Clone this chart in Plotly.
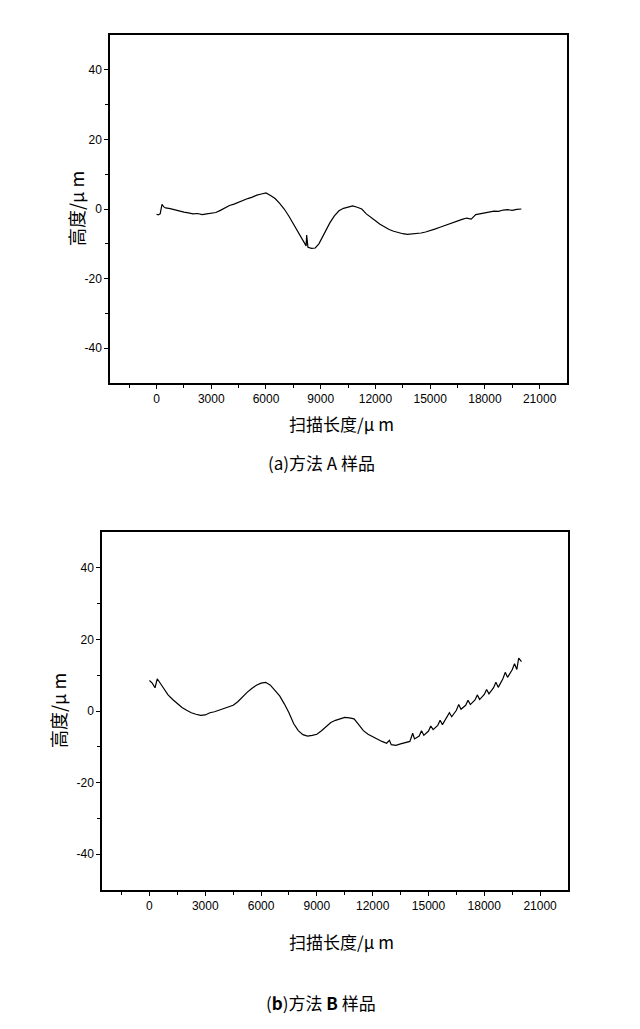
import plotly.graph_objects as go

x_a = [0,100,200,300,400,500,750,1000,1250,1500,1750,2000,2250,2500,2750,3000,3250,3500,3750,4000,4250,4500,4750,5000,5250,5500,5750,6000,6250,6500,6750,7000,7250,7500,7750,8000,8150,8200,8230,8260,8300,8500,8700,8900,9000,9250,9500,9750,10000,10250,10500,10750,11000,11250,11500,11750,12000,12250,12500,12750,13000,13250,13500,13750,14000,14250,14500,14750,15000,15250,15500,15750,16000,16250,16500,16750,17000,17250,17500,17750,18000,18250,18500,18750,19000,19250,19500,19750,20000]
y_a = [-1.5,-1.7,-1.4,1.3,0.6,0.3,0.1,-0.3,-0.5,-0.9,-1.1,-1.4,-1.3,-1.6,-1.4,-1.3,-1.0,-0.4,0.3,1.0,1.4,2.0,2.5,3.0,3.4,4.0,4.3,4.6,3.9,3.0,1.6,0.0,-2.0,-4.2,-6.5,-9.0,-10.2,-10.6,-7.5,-10.8,-11.0,-11.3,-11.2,-10.0,-9.0,-6.5,-4.0,-2.0,-0.5,0.2,0.5,0.9,0.5,0.0,-1.4,-2.3,-3.4,-4.4,-5.2,-5.9,-6.4,-6.8,-7.1,-7.3,-7.2,-7.0,-6.9,-6.6,-6.3,-5.8,-5.3,-4.8,-4.4,-3.8,-3.4,-3.0,-2.6,-2.9,-1.6,-1.3,-1.0,-0.9,-0.6,-0.7,-0.3,-0.2,-0.4,-0.1,0.0]

x_b = [0,150,300,420,600,800,1000,1250,1500,1750,2000,2250,2500,2750,3000,3250,3500,3750,4000,4250,4500,4750,5000,5250,5500,5750,6000,6250,6500,6750,7000,7250,7500,7750,8000,8250,8500,8750,9000,9250,9500,9750,10000,10250,10500,10750,11000,11250,11500,11750,12000,12250,12500,12750,12900,13000,13250,13500,13750,14000,14150,14250,14500,14625,14750,15000,15125,15250,15500,15625,15750,16000,16125,16250,16500,16625,16750,17000,17125,17250,17500,17625,17750,18000,18125,18250,18500,18625,18750,19000,19125,19250,19500,19625,19750,19850,20000]
y_b = [8.5,7.8,6.5,9.0,7.6,6.0,4.5,3.2,2.0,1.0,0.2,-0.5,-0.9,-1.2,-1.1,-0.5,-0.2,0.3,0.6,1.1,1.6,2.6,4.0,5.2,6.3,7.2,7.8,8.0,7.2,5.8,4.2,2.0,-0.5,-3.5,-5.5,-6.6,-7.0,-6.8,-6.5,-5.5,-4.3,-3.2,-2.6,-2.2,-1.8,-1.9,-2.2,-3.8,-5.5,-6.5,-7.2,-7.9,-8.5,-9.0,-8.2,-9.4,-9.6,-9.2,-8.8,-8.5,-6.2,-7.8,-7.0,-5.5,-6.8,-5.6,-4.2,-5.2,-4.0,-2.6,-3.8,-1.8,-0.5,-1.6,0.2,1.8,0.5,1.6,3.0,1.8,3.1,4.5,3.2,4.6,6.0,4.8,6.5,8.0,6.6,9.0,10.8,9.4,11.5,13.2,11.6,14.8,13.8]

x_ticks = [0,3000,6000,9000,12000,15000,18000,21000]
x_ticktext = ["0","3000","6000","9000","12000","15000","18000","21000"]
y_ticks = [-40,-20,0,20,40]
y_ticktext = ["-40","-20","0","20","40"]

W, H = 640, 1029
OFF = 7

def px(v): return (v - OFF) / W
def py(v): return 1 - (v - OFF) / H

fig = go.Figure()
line = dict(color="black", width=1.2)
fig.add_trace(go.Scatter(x=x_a, y=y_a, mode="lines", line=line, xaxis="x", yaxis="y", showlegend=False))
fig.add_trace(go.Scatter(x=x_b, y=y_b, mode="lines", line=line, xaxis="x2", yaxis="y2", showlegend=False))

tickfont = dict(family="Liberation Sans, Arial", size=12, color="black")
def xax(dom, anchor):
    return dict(domain=dom, anchor=anchor, range=[-2550, 22500], tickvals=x_ticks, ticktext=x_ticktext,
                ticks="outside", ticklen=4, tickcolor="black", showline=True, linecolor="black", linewidth=1.5,
                mirror=True, showgrid=False, zeroline=False, tickfont=tickfont,
                minor=dict(tickvals=[-1500,1500,4500,7500,10500,13500,16500,19500], ticks="outside", ticklen=3, tickcolor="black"))
def yax(dom, anchor):
    return dict(domain=dom, anchor=anchor, range=[-50, 50], tickvals=y_ticks, ticktext=y_ticktext,
                ticks="outside", ticklen=4, tickcolor="black", showline=True, linecolor="black", linewidth=1.5,
                mirror=True, showgrid=False, zeroline=False, tickfont=tickfont,
                minor=dict(tickvals=[-30,-10,10,30], ticks="outside", ticklen=3, tickcolor="black"))

cjk = "Noto Sans CJK SC"
ann = [
    dict(text="高度/μ m", x=px(75), y=py(208), textangle=-90, font=dict(family=cjk, size=18)),
    dict(text="扫描长度/μ m", x=px(340), y=py(422), font=dict(family=cjk, size=17)),
    dict(text="(a)方法 A 样品", x=px(320), y=py(461), font=dict(family=cjk, size=17)),
    dict(text="高度/μ m", x=px(57), y=py(710), textangle=-90, font=dict(family=cjk, size=18)),
    dict(text="扫描长度/μ m", x=px(340), y=py(940), font=dict(family=cjk, size=17)),
    dict(text="(<b>b</b>)方法 <b>B</b> 样品", x=px(320), y=py(1001), font=dict(family=cjk, size=17)),
]
for a in ann:
    a.update(xref="paper", yref="paper", showarrow=False, xanchor="center", yanchor="middle")
    a["font"]["color"] = "black"

fig.update_layout(
    width=W, height=H, margin=dict(l=0, r=0, t=0, b=0),
    paper_bgcolor="white", plot_bgcolor="white",
    xaxis=xax([px(109), px(566)], "y"), yaxis=yax([py(382), py(34)], "x"),
    xaxis2=xax([px(101), px(567)], "y2"), yaxis2=yax([py(889), py(531)], "x2"),
    annotations=ann,
)
fig.write_html("out.html")
